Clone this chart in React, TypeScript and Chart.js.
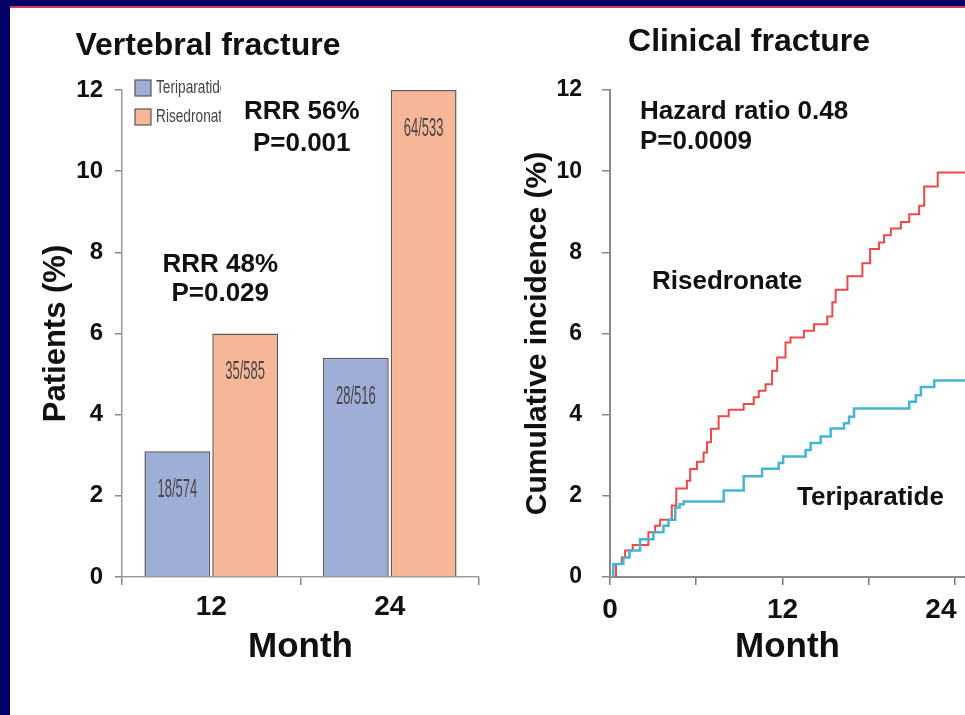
import React, { useEffect, useRef } from 'react';
import { Chart, registerables } from 'chart.js';

Chart.register(...registerables);

// ---------- data ----------
const barCategories = ['12', '24'];
const teriparatideBar = [3.1, 5.4];
const risedronateBar = [6.0, 12.0];
const teriparatideCounts = ['18/574', '28/516'];
const risedronateCounts = ['35/585', '64/533'];
const rrrLines = [
  ['RRR 48%', 'P=0.029'],
  ['RRR 56%', 'P=0.001'],
];

const risedronateMonths = [0.42, 0.82, 1.05, 1.58, 2.67, 3.14, 3.49, 4.30, 4.61, 5.35, 5.58, 6.05, 6.51, 6.75, 7.03, 7.56, 8.26, 9.30, 10.00, 10.35, 10.82, 11.28, 11.63, 12.21, 12.56, 13.49, 14.19, 15.12, 15.47, 15.70, 16.52, 17.56, 18.10, 18.72, 19.07, 19.54, 20.24, 20.82, 21.51, 21.86, 22.80];
const risedronateIncidence = [0.32, 0.48, 0.65, 0.79, 1.10, 1.26, 1.41, 1.76, 2.18, 2.37, 2.66, 2.84, 3.07, 3.32, 3.65, 3.96, 4.12, 4.26, 4.43, 4.59, 4.75, 5.08, 5.41, 5.78, 5.90, 6.07, 6.23, 6.42, 6.77, 7.08, 7.41, 7.73, 8.08, 8.24, 8.42, 8.59, 8.75, 8.94, 9.15, 9.62, 9.97];
const teriparatideMonths = [0.23, 0.93, 1.35, 2.09, 3.02, 3.72, 4.07, 4.54, 4.85, 5.12, 7.91, 9.30, 10.58, 11.74, 12.05, 13.61, 13.96, 14.66, 15.35, 16.28, 16.63, 16.98, 20.82, 21.28, 21.63, 22.56];
const teriparatideIncidence = [0.32, 0.48, 0.65, 0.93, 1.10, 1.26, 1.41, 1.71, 1.79, 1.86, 2.13, 2.48, 2.67, 2.81, 2.97, 3.13, 3.30, 3.46, 3.66, 3.79, 3.95, 4.15, 4.32, 4.48, 4.68, 4.84];

const curveTickMonths = [0, 6, 12, 18, 24];
const curveLabelMonths = [0, 12, 24];
const yTickStep = 2;
const yMax = 12;
const CURVE_X_MAX = 24.7;

// ---------- styling ----------
const FONT = "'Liberation Sans', Arial, Helvetica, sans-serif";
const TEXT = '#111111';
const TERI_FILL = '#9eaed7';
const RISE_FILL = '#f8b699';
const RISE_LINE = '#ee4848';
const TERI_LINE = '#45b5d6';

function stepData(months: number[], values: number[]) {
  const pts = [{ x: 0, y: 0 }];
  months.forEach((m, i) => pts.push({ x: m, y: values[i] }));
  pts.push({ x: CURVE_X_MAX, y: values[values.length - 1] });
  return pts;
}

function boldText(ctx: CanvasRenderingContext2D, text: string, x: number, y: number, size: number, align: CanvasTextAlign = 'center') {
  ctx.save();
  ctx.font = `bold ${size}px ${FONT}`;
  ctx.fillStyle = TEXT;
  ctx.textAlign = align;
  ctx.textBaseline = 'middle';
  ctx.fillText(text, x, y);
  ctx.restore();
}

function condensedText(ctx: CanvasRenderingContext2D, text: string, x: number, y: number, size: number, sx: number, align: CanvasTextAlign, color: string) {
  ctx.save();
  ctx.font = `${size}px ${FONT}`;
  ctx.fillStyle = color;
  ctx.textAlign = align;
  ctx.textBaseline = 'middle';
  ctx.translate(x, y);
  ctx.scale(sx, 1);
  ctx.fillText(text, 0, 0);
  ctx.restore();
}

const barOverlay = {
  id: 'barOverlay',
  afterDatasetsDraw(chart: any) {
    const { ctx, chartArea, scales } = chart;
    const counts = [teriparatideCounts, risedronateCounts];
    chart.data.datasets.forEach((_ds: any, di: number) => {
      chart.getDatasetMeta(di).data.forEach((bar: any, i: number) => {
        condensedText(ctx, counts[di][i], bar.x, bar.y + 39, 25, 0.52, 'center', '#474747');
      });
    });
    // RRR annotations
    const xs = scales.x;
    const a0x = xs.getPixelForValue(0) + 9;
    const a1x = xs.getPixelForValue(1) - 88;
    boldText(ctx, rrrLines[0][0], a0x, 265, 26);
    boldText(ctx, rrrLines[0][1], a0x, 294, 26);
    boldText(ctx, rrrLines[1][0], a1x, 112, 26);
    boldText(ctx, rrrLines[1][1], a1x, 144, 26);
    // legend
    const lx = chartArea.left + 13;
    const rows = [
      { y: chartArea.top - 2, color: TERI_FILL, label: chart.data.datasets[0].label },
      { y: chartArea.top + 27, color: RISE_FILL, label: chart.data.datasets[1].label },
    ];
    rows.forEach((r) => {
      ctx.save();
      ctx.fillStyle = r.color;
      ctx.strokeStyle = '#555555';
      ctx.lineWidth = 1.2;
      ctx.fillRect(lx, r.y - 8, 16, 16);
      ctx.strokeRect(lx, r.y - 8, 16, 16);
      ctx.beginPath();
      ctx.rect(lx + 18, r.y - 14, 221 - (lx + 18), 28);
      ctx.clip();
      condensedText(ctx, r.label, lx + 21, r.y, 19, 0.72, 'left', '#444444');
      ctx.restore();
    });
    // title
    boldText(ctx, 'Vertebral fracture', 208, 46, 32);
  },
};

const curveOverlay = {
  id: 'curveOverlay',
  afterDatasetsDraw(chart: any) {
    const { ctx } = chart;
    boldText(ctx, 'Clinical fracture', 264, 42, 32);
    boldText(ctx, 'Hazard ratio 0.48', 155, 112, 26, 'left');
    boldText(ctx, 'P=0.0009', 155, 142, 26, 'left');
    boldText(ctx, 'Risedronate', 167, 282, 26, 'left');
    boldText(ctx, 'Teriparatide', 312, 498, 26, 'left');
  },
};

export default function App() {
  const leftRef = useRef<HTMLCanvasElement | null>(null);
  const rightRef = useRef<HTMLCanvasElement | null>(null);

  useEffect(() => {
    const left = new Chart(leftRef.current as HTMLCanvasElement, {
      type: 'bar',
      data: {
        labels: barCategories,
        datasets: [
          {
            label: 'Teriparatide',
            data: teriparatideBar,
            backgroundColor: TERI_FILL,
            borderColor: '#5a5a5a',
            borderWidth: 1.5,
            categoryPercentage: 0.76,
            barPercentage: 0.97,
          },
          {
            label: 'Risedronate',
            data: risedronateBar,
            backgroundColor: RISE_FILL,
            borderColor: '#5a5a5a',
            borderWidth: 1.5,
            categoryPercentage: 0.76,
            barPercentage: 0.97,
          },
        ],
      },
      options: {
        responsive: false,
        animation: false,
        layout: { padding: { top: 90, left: 0, right: 6, bottom: 0 } },
        plugins: { legend: { display: false }, tooltip: { enabled: false } },
        scales: {
          x: {
            grid: { offset: true, drawOnChartArea: false, drawTicks: true, tickLength: 8, color: '#888888', lineWidth: 1.5 },
            border: { color: '#9a9a9a', width: 1.5 },
            ticks: { font: { family: FONT, size: 28, weight: 'bold' }, color: TEXT, padding: 5, maxRotation: 0 },
            title: { display: true, text: 'Month', color: TEXT, font: { family: FONT, size: 35, weight: 'bold' }, padding: { top: 0, bottom: 47 } },
            afterFit: (s: any) => { s.height = 138; },
          },
          y: {
            min: 0,
            max: yMax,
            ticks: { stepSize: yTickStep, font: { family: FONT, size: 24, weight: 'bold' }, color: TEXT, padding: 12 },
            grid: { drawOnChartArea: false, tickLength: 7, color: '#888888', lineWidth: 1.5 },
            border: { color: '#9a9a9a', width: 1.5 },
            title: { display: true, text: 'Patients (%)', color: TEXT, font: { family: FONT, size: 31, weight: 'bold' }, padding: { top: 38, bottom: 0 } },
            afterFit: (s: any) => { s.width = 122; },
          },
        },
      },
      plugins: [barOverlay],
    } as any);

    const right = new Chart(rightRef.current as HTMLCanvasElement, {
      type: 'line',
      data: {
        datasets: [
          {
            label: 'Teriparatide',
            data: stepData(teriparatideMonths, teriparatideIncidence),
            borderColor: TERI_LINE,
            borderWidth: 2.5,
            stepped: true,
            pointRadius: 0,
            fill: false,
          },
          {
            label: 'Risedronate',
            data: stepData(risedronateMonths, risedronateIncidence),
            borderColor: RISE_LINE,
            borderWidth: 2,
            stepped: true,
            pointRadius: 0,
            fill: false,
          },
        ],
      },
      options: {
        responsive: false,
        animation: false,
        layout: { padding: { top: 90, left: 0, right: 0, bottom: 0 } },
        plugins: { legend: { display: false }, tooltip: { enabled: false } },
        scales: {
          x: {
            type: 'linear',
            min: 0,
            max: CURVE_X_MAX,
            afterBuildTicks: (s: any) => { s.ticks = curveTickMonths.map((v) => ({ value: v })); },
            ticks: {
              autoSkip: false,
              maxRotation: 0,
              font: { family: FONT, size: 28, weight: 'bold' },
              color: TEXT,
              padding: 8,
              callback: (v: any) => {
                if (!curveLabelMonths.includes(v)) return '';
                return v === curveLabelMonths[curveLabelMonths.length - 1] ? String(v) + '\u2003' : String(v);
              },
            },
            grid: { drawOnChartArea: false, tickLength: 8, color: '#777777', lineWidth: 1.5 },
            border: { color: '#8a8a8a', width: 2 },
            title: { display: true, text: 'Month', color: TEXT, font: { family: FONT, size: 35, weight: 'bold' }, padding: { top: 0, bottom: 47 } },
            afterFit: (s: any) => { s.height = 138; s.paddingLeft = 0; s.paddingRight = 0; },
          },
          y: {
            min: 0,
            max: yMax,
            ticks: { stepSize: yTickStep, font: { family: FONT, size: 23, weight: 'bold' }, color: TEXT, padding: 20 },
            grid: { drawOnChartArea: false, tickLength: 8, color: '#888888', lineWidth: 1.5 },
            border: { color: '#8a8a8a', width: 2 },
            title: { display: true, text: 'Cumulative incidence (%)', color: TEXT, font: { family: FONT, size: 30, weight: 'bold' }, padding: { top: 35, bottom: 0 } },
            afterFit: (s: any) => { s.width = 125; },
          },
        },
      },
      plugins: [curveOverlay],
    } as any);

    return () => {
      left.destroy();
      right.destroy();
    };
  }, []);

  return (
    <div style={{ position: 'fixed', left: 0, top: 0, width: 965, height: 715, overflow: 'hidden', background: '#ffffff' }}>
      <canvas ref={leftRef} width={485} height={715} style={{ position: 'absolute', left: 0, top: 0 }} />
      <canvas ref={rightRef} width={480} height={715} style={{ position: 'absolute', left: 485, top: 0 }} />
      <div style={{ position: 'absolute', left: 0, top: 0, width: 10, height: 715, background: '#000066' }} />
      <div style={{ position: 'absolute', left: 0, top: 0, width: 965, height: 6, background: '#000066' }} />
      <div style={{ position: 'absolute', left: 10, top: 6, width: 955, height: 2, background: '#d23c64' }} />
    </div>
  );
}
